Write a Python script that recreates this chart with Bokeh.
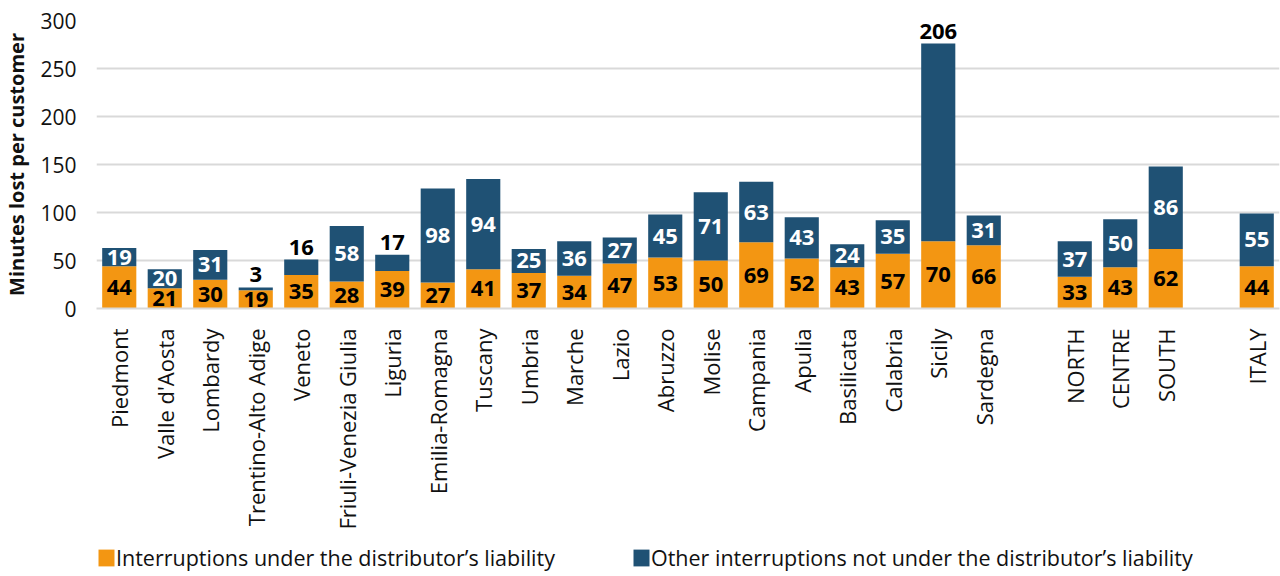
from bokeh.plotting import figure
from bokeh.models import ColumnDataSource, Range1d, FixedTicker, Legend, LegendItem
from bokeh.layouts import column
from bokeh.core.properties import value
from bokeh.embed import file_html
from bokeh.resources import INLINE

# ---- data ----
regions = ["Piedmont", "Valle d'Aosta", "Lombardy", "Trentino-Alto Adige", "Veneto",
           "Friuli-Venezia Giulia", "Liguria", "Emilia-Romagna", "Tuscany", "Umbria",
           "Marche", "Lazio", "Abruzzo", "Molise", "Campania", "Apulia", "Basilicata",
           "Calabria", "Sicily", "Sardegna"]
regions_liable = [44, 21, 30, 19, 35, 28, 39, 27, 41, 37, 34, 47, 53, 50, 69, 52, 43, 57, 70, 66]
regions_other = [19, 20, 31, 3, 16, 58, 17, 98, 94, 25, 36, 27, 45, 71, 63, 43, 24, 35, 206, 31]

macro = ["NORTH", "CENTRE", "SOUTH"]
macro_liable = [33, 43, 62]
macro_other = [37, 50, 86]

national = ["ITALY"]
national_liable = [44]
national_other = [55]

series_names = ["Interruptions under the distributor\u2019s liability",
                "Other interruptions not under the distributor\u2019s liability"]
y_ticks = [0, 50, 100, 150, 200, 250, 300]

ORANGE = "#F39612"
NAVY = "#1F5174"
FONT = "Open Sans"

# ---- positions: groups separated by one empty slot ----
groups = [(regions, regions_liable, regions_other),
          (macro, macro_liable, macro_other),
          (national, national_liable, national_other)]
xs, names, liable, other = [], [], [], []
pos = 0
for g_names, g_l, g_o in groups:
    for n, l, o in zip(g_names, g_l, g_o):
        xs.append(pos)
        names.append(n)
        liable.append(l)
        other.append(o)
        pos += 1
    pos += 1
n_slots = pos - 1

totals = [l + o for l, o in zip(liable, other)]
src = ColumnDataSource(dict(x=xs, liable=liable, other=other, total=totals,
                            l_mid=[l / 2 for l in liable],
                            l_txt=[str(v) for v in liable]))

inside = [18 <= o < 200 for o in other]
src_in = ColumnDataSource(dict(x=[x for x, f in zip(xs, inside) if f],
                               y=[l + o / 2 for l, o, f in zip(liable, other, inside) if f],
                               t=[str(o) for o, f in zip(other, inside) if f]))
src_out = ColumnDataSource(dict(x=[x for x, f in zip(xs, inside) if not f],
                                y=[t for t, f in zip(totals, inside) if not f],
                                t=[str(o) for o, f in zip(other, inside) if not f]))

p = figure(width=1280, height=536, output_backend="svg", toolbar_location=None,
           x_range=Range1d(-0.5, n_slots - 0.5), y_range=Range1d(0, 300),
           min_border_left=94, min_border_right=1, min_border_top=20, min_border_bottom=228)
p.outline_line_color = None
p.background_fill_color = "white"
p.border_fill_color = "white"

b1 = p.vbar(x="x", bottom=0, top="liable", width=0.75, source=src,
            fill_color=ORANGE, line_color=None)
b2 = p.vbar(x="x", bottom="liable", top="total", width=0.75, source=src,
            fill_color=NAVY, line_color=None)

LBL = "22px"
p.text(x="x", y="l_mid", text="l_txt", source=src, text_align="center",
       text_baseline="middle", text_font=value(FONT), text_font_style="bold",
       text_font_size=LBL, text_color="black")
p.text(x="x", y="y", text="t", source=src_in, text_align="center",
       text_baseline="middle", text_font=value(FONT), text_font_style="bold",
       text_font_size=LBL, text_color="white")
p.text(x="x", y="y", text="t", source=src_out, text_align="center",
       text_baseline="bottom", y_offset=-5, text_font=value(FONT), text_font_style="bold",
       text_font_size=LBL, text_color="black")

# axes
p.xgrid.grid_line_color = None
p.ygrid.grid_line_color = "#D9D9D9"
p.ygrid.grid_line_width = 2
p.yaxis.ticker = FixedTicker(ticks=y_ticks)
p.yaxis.axis_line_color = None
p.yaxis.major_tick_line_color = None
p.yaxis.minor_tick_line_color = None
p.yaxis.major_label_text_font = FONT
p.yaxis.major_label_text_font_size = "21px"
p.yaxis.major_label_text_color = "#111111"
p.yaxis.major_label_standoff = 14
p.yaxis.axis_label = "Minutes lost per customer"
p.yaxis.axis_label_text_font = FONT
p.yaxis.axis_label_text_font_style = "bold"
p.yaxis.axis_label_text_font_size = "20px"
p.yaxis.axis_label_text_color = "#111111"
p.yaxis.axis_label_standoff = 7

p.xaxis.ticker = FixedTicker(ticks=xs)
p.xaxis.major_label_overrides = {x: n for x, n in zip(xs, names)}
p.xaxis.major_label_orientation = 1.5707963
p.xaxis.axis_line_color = "#D9D9D9"
p.xaxis.axis_line_width = 2
p.xaxis.major_tick_line_color = None
p.xaxis.minor_tick_line_color = None
p.xaxis.major_label_text_font = FONT
p.xaxis.major_label_text_font_size = "22px"
p.xaxis.major_label_text_color = "#111111"
p.xaxis.major_label_standoff = 14

# ---- legend strip ----
pl = figure(width=1280, height=40, output_backend="svg", toolbar_location=None,
            x_range=Range1d(0, 1), y_range=Range1d(0, 1),
            min_border=0, x_axis_type=None, y_axis_type=None)
pl.outline_line_color = None
pl.grid.grid_line_color = None
swatch = ColumnDataSource(dict(x=[0], top=[0]))  # zero-height swatch carriers
l1 = pl.vbar(x="x", top="top", width=0.0, source=swatch, fill_color=ORANGE, line_color=None)
l2 = pl.vbar(x="x", top="top", width=0.0, source=swatch, fill_color=NAVY, line_color=None)
legend = Legend(items=[LegendItem(label=series_names[0], renderers=[l1]),
                       LegendItem(label=series_names[1], renderers=[l2])],
                orientation="horizontal", location=(0, 4),
                glyph_width=20, glyph_height=21, label_height=21, label_standoff=0,
                spacing=76, padding=0, margin=0, border_line_color=None,
                background_fill_alpha=0,
                label_text_font=FONT, label_text_font_size="21.5px",
                label_text_color="#111111")
pl.add_layout(legend, "center")

open("out.html", "w").write(file_html(column(p, pl, spacing=0), INLINE))
